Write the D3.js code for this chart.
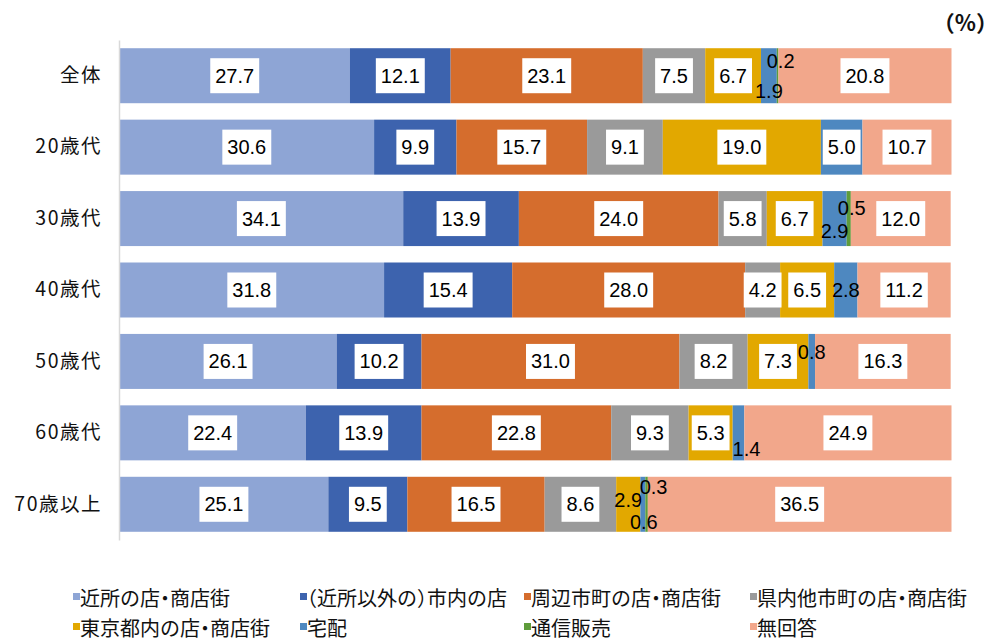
<!DOCTYPE html>
<html>
<head>
<meta charset="utf-8">
<script src="https://cdn.jsdelivr.net/npm/d3@7"></script>
<style>
  html, body { margin: 0; padding: 0; background: #fff; }
  svg { display: block; }
</style>
</head>
<body>
<svg id="chart" width="989" height="642"></svg>
<script>
// Age groups (rows, top to bottom)
const categories = ["全体", "20歳代", "30歳代", "40歳代", "50歳代", "60歳代", "70歳以上"];

// Where people shop (stack order, left to right)
const seriesNames = [
  "近所の店・商店街",
  "（近所以外の）市内の店",
  "周辺市町の店・商店街",
  "県内他市町の店・商店街",
  "東京都内の店・商店街",
  "宅配",
  "通信販売",
  "無回答"
];

// Shares in percent, one value per age group
const neighborhood = [27.7, 30.6, 34.1, 31.8, 26.1, 22.4, 25.1];
const inCity       = [12.1,  9.9, 13.9, 15.4, 10.2, 13.9,  9.5];
const surrounding  = [23.1, 15.7, 24.0, 28.0, 31.0, 22.8, 16.5];
const otherTowns   = [ 7.5,  9.1,  5.8,  4.2,  8.2,  9.3,  8.6];
const tokyo        = [ 6.7, 19.0,  6.7,  6.5,  7.3,  5.3,  2.9];
const delivery     = [ 1.9,  5.0,  2.9,  2.8,  0.8,  1.4,  0.6];
const mailOrder    = [ 0.2,  0.0,  0.5,  0.0,  0.0,  0.0,  0.3];
const noAnswer     = [20.8, 10.7, 12.0, 11.2, 16.3, 24.9, 36.5];

const seriesValues = [neighborhood, inCity, surrounding, otherTowns, tokyo, delivery, mailOrder, noAnswer];
const colors = ["#8EA5D5", "#3D63AE", "#D56D2D", "#9A9A9A", "#E2A800", "#4E88C0", "#5E9C3B", "#F2A78B"];

// Table rows for d3.stack
const rows = categories.map((c, i) => {
  const r = { category: c };
  seriesNames.forEach((s, j) => { r[s] = seriesValues[j][i]; });
  return r;
});

const svg = d3.select("#chart");
const numFont = "'Liberation Sans', Arial, sans-serif";
const jpFont = "'Noto Sans CJK JP', 'Noto Sans', sans-serif";

const x = d3.scaleLinear().domain([0, 100]).range([119.5, 951.5]);
const y = d3.scaleBand().domain(categories).range([40, 540])
  .paddingInner(0.23).paddingOuter(0.115);

const stacked = d3.stack().keys(seriesNames)(rows);

// Bars
const layers = svg.append("g").selectAll("g")
  .data(stacked)
  .join("g")
  .attr("fill", (d, i) => colors[i]);

layers.selectAll("rect")
  .data(d => d)
  .join("rect")
  .attr("x", d => x(d[0]))
  .attr("y", d => y(d.data.category))
  .attr("width", d => x(d[1]) - x(d[0]))
  .attr("height", y.bandwidth());

// Category axis
const yAxis = svg.append("g")
  .attr("transform", `translate(${x(0) - 0.5},0)`)
  .call(d3.axisLeft(y).tickSize(0).tickPadding(17));
yAxis.select(".domain").attr("stroke", "#D9D9D9").attr("stroke-width", 1.5);
yAxis.selectAll("text")
  .attr("font-family", jpFont)
  .attr("font-size", 19.5)
  .attr("letter-spacing", 1.5)
  .attr("fill", "#111");

// Narrow segments get a plain label nudged off the bar centre
const nudges = {
  "全体|5": [0, 15], "全体|6": [3, -15],
  "30歳代|5": [0, 12], "30歳代|6": [3, -11],
  "50歳代|5": [0, -9],
  "60歳代|5": [8, 16],
  "70歳以上|4": [0, -4], "70歳以上|5": [1, 18], "70歳以上|6": [7, -17]
};

const labelLayer = svg.append("g");
stacked.forEach((layer, si) => {
  layer.forEach(d => {
    const v = d[1] - d[0];
    if (v <= 0) return;
    const cat = d.data.category;
    const boxed = v >= 3.5;
    const n = nudges[cat + "|" + si] || [0, 0];
    const cx = (x(d[0]) + x(d[1])) / 2 + n[0];
    const cy = y(cat) + y.bandwidth() / 2 + n[1];
    const g = labelLayer.append("g");
    const t = g.append("text")
      .attr("x", cx).attr("y", cy)
      .attr("text-anchor", "middle")
      .attr("dominant-baseline", "central")
      .attr("font-family", numFont)
      .attr("font-size", 20)
      .attr("fill", "#000")
      .text(v.toFixed(1));
    if (boxed) {
      const b = t.node().getBBox();
      g.insert("rect", "text")
        .attr("x", b.x - 5).attr("y", cy - 17.5)
        .attr("width", b.width + 10).attr("height", 35)
        .attr("fill", "#fff");
    }
  });
});

// Unit
svg.append("text")
  .attr("x", 987).attr("y", 21)
  .attr("text-anchor", "end")
  .attr("dominant-baseline", "central")
  .attr("font-family", jpFont)
  .attr("font-size", 22)
  .attr("font-weight", "bold")
  .style("font-feature-settings", "'halt' 1")
  .attr("fill", "#111")
  .text("（%）");

// Legend, two rows of four
const legendCols = [73, 300, 524, 750];
const legendRows = [597, 627];
const legend = svg.append("g").selectAll("g")
  .data(seriesNames)
  .join("g")
  .attr("transform", (d, i) => `translate(${legendCols[i % 4]},${legendRows[Math.floor(i / 4)]})`);
legend.append("rect")
  .attr("x", 0).attr("y", -4)
  .attr("width", 7).attr("height", 7)
  .attr("fill", (d, i) => colors[i]);
legend.append("text")
  .attr("x", 7).attr("y", 0)
  .attr("dominant-baseline", "central")
  .attr("font-family", jpFont)
  .attr("font-size", 20)
  .style("font-feature-settings", "'halt' 1")
  .attr("fill", "#111")
  .text(d => d);
</script>
</body>
</html>
